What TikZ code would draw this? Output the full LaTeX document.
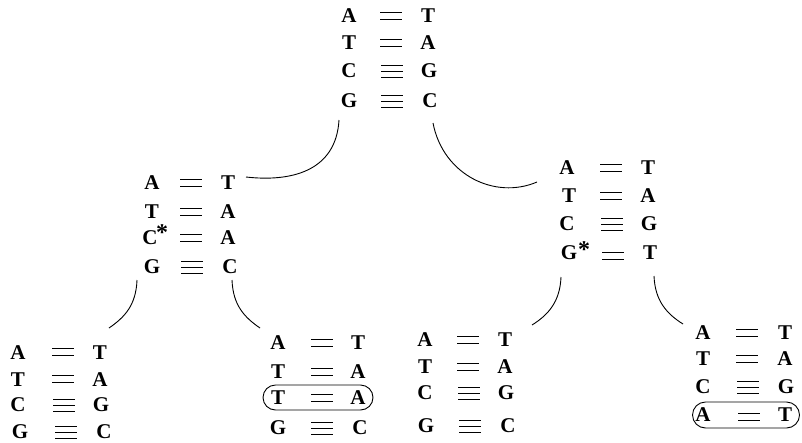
\documentclass[tikz,border=0pt]{standalone}
\usepackage{fontspec}
\setmainfont{Liberation Serif}
\usetikzlibrary{shapes.misc}
\begin{document}
\begin{tikzpicture}[x=1pt,y=-1pt,
  base/.style={font=\fontsize{21}{24}\selectfont\bfseries, inner sep=0pt},
  astx/.style={font=\fontsize{24}{26}\selectfont\bfseries, inner sep=0pt, anchor=base},
  bondline/.style={line width=0.9pt},
  link/.style={line width=0.9pt},
  hilite/.style={draw, rounded rectangle, line width=0.9pt, inner sep=0pt},
  dbond/.pic={\draw[bondline] (-11,-3.2) -- (11,-3.2) (-11,3.2) -- (11,3.2);},
  tbond/.pic={\draw[bondline] (-11,-6) -- (11,-6) (-11,0) -- (11,0) (-11,6) -- (11,6);}
]
\useasboundingbox (0,0) rectangle (802,442);

% ---------- top block ----------
\node[base] (t1a) at (349,16) {A}; \pic at (391,16) {dbond}; \node[base] (t1b) at (428,16) {T};
\node[base] (t2a) at (349,43) {T}; \pic at (391,43) {dbond}; \node[base] (t2b) at (428,43) {A};
\node[base] (t3a) at (349,71) {C}; \pic at (392,71) {tbond}; \node[base] (t3b) at (429,71) {G};
\node[base] (t4a) at (349,101) {G}; \pic at (392,101) {tbond}; \node[base] (t4b) at (430,101) {C};

% ---------- middle left block ----------
\node[base] (l1a) at (152,183) {A}; \pic at (191,183) {dbond}; \node[base] (l1b) at (228,183) {T};
\node[base] (l2a) at (152,212) {T}; \pic at (191,212) {dbond}; \node[base] (l2b) at (228,212) {A};
\node[base] (l3a) at (150,238) {C}; \node[astx] (l3s) at (162,240) {*};
\pic at (191,238) {dbond}; \node[base] (l3b) at (228,238) {A};
\node[base] (l4a) at (152,267) {G}; \pic at (192,267) {tbond}; \node[base] (l4b) at (230,267) {C};

% ---------- middle right block ----------
\node[base] (r1a) at (567,168) {A}; \pic at (611,168) {dbond}; \node[base] (r1b) at (648,168) {T};
\node[base] (r2a) at (569,196) {T}; \pic at (611,196) {dbond}; \node[base] (r2b) at (648,196) {A};
\node[base] (r3a) at (567,224) {C}; \pic at (612,224) {tbond}; \node[base] (r3b) at (649,224) {G};
\node[base] (r4a) at (569,253) {G}; \node[astx] (r4s) at (584,257) {*};
\pic at (613,256) {dbond}; \node[base] (r4b) at (650,253) {T};

% ---------- bottom block 1 ----------
\node[base] (a1a) at (18,353) {A}; \pic at (63,352) {dbond}; \node[base] (a1b) at (100,353) {T};
\node[base] (a2a) at (18,380) {T}; \pic at (63,379) {dbond}; \node[base] (a2b) at (100,380) {A};
\node[base] (a3a) at (18,405) {C}; \pic at (64,405) {tbond}; \node[base] (a3b) at (101,405) {G};
\node[base] (a4a) at (20,432) {G}; \pic at (66,432) {tbond}; \node[base] (a4b) at (104,432) {C};

% ---------- bottom block 2 ----------
\node[base] (b1a) at (278,343) {A}; \pic at (322,343) {dbond}; \node[base] (b1b) at (358,343) {T};
\node[base] (b2a) at (278,372) {T}; \pic at (322,372) {dbond}; \node[base] (b2b) at (358,372) {A};
\node[base] (b3a) at (278,398) {T}; \pic at (322,398) {dbond}; \node[base] (b3b) at (358,398) {A};
\node[base] (b4a) at (278,428) {G}; \pic at (322,428) {tbond}; \node[base] (b4b) at (360,428) {C};
\node[hilite, minimum width=110pt, minimum height=25pt] (sel1) at (318,397.5) {};

% ---------- bottom block 3 ----------
\node[base] (c1a) at (425,340) {A}; \pic at (468,340) {dbond}; \node[base] (c1b) at (505,340) {T};
\node[base] (c2a) at (425,367) {T}; \pic at (468,367) {dbond}; \node[base] (c2b) at (505,367) {A};
\node[base] (c3a) at (425,393) {C}; \pic at (469,393) {tbond}; \node[base] (c3b) at (506,393) {G};
\node[base] (c4a) at (426,426) {G}; \pic at (470,426) {tbond}; \node[base] (c4b) at (508,426) {C};

% ---------- bottom block 4 ----------
\node[base] (d1a) at (703,333) {A}; \pic at (747,333) {dbond}; \node[base] (d1b) at (785,333) {T};
\node[base] (d2a) at (703,359) {T}; \pic at (747,359) {dbond}; \node[base] (d2b) at (785,359) {A};
\node[base] (d3a) at (703,387) {C}; \pic at (748,387) {tbond}; \node[base] (d3b) at (786,387) {G};
\node[base] (d4a) at (703,415) {A}; \pic at (749,417) {dbond}; \node[base] (d4b) at (785,415) {T};
\node[hilite, minimum width=107pt, minimum height=26pt] (sel2) at (746,415) {};

% ---------- connectors ----------
\coordinate (p1) at (339,120); \coordinate (q1) at (246,177);
\coordinate (p2) at (433,123); \coordinate (q2) at (537,182);
\coordinate (p3) at (137,280); \coordinate (q3) at (109,328);
\coordinate (p4) at (232,280); \coordinate (q4) at (260,328);
\coordinate (p5) at (561,277); \coordinate (q5) at (532,325);
\coordinate (p6) at (654,276); \coordinate (q6) at (683,324);

\draw[link] (p1) .. controls (336,172) and (290,182) .. (q1);
\draw[link] (p2) .. controls (443,175) and (495,200) .. (q2);
\draw[link] (p3) .. controls (136,305) and (125,317) .. (q3);
\draw[link] (p4) .. controls (233,305) and (244,317) .. (q4);
\draw[link] (p5) .. controls (560,302) and (548,315) .. (q5);
\draw[link] (p6) .. controls (655,301) and (667,314) .. (q6);
\end{tikzpicture}
\end{document}
